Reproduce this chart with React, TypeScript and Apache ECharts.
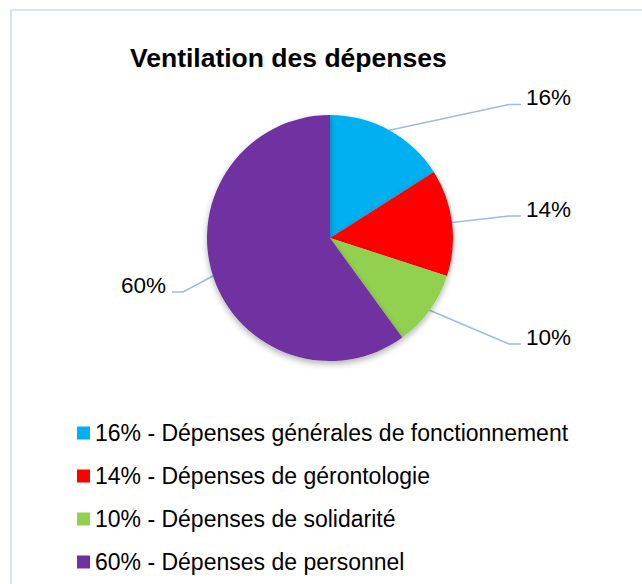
import React, { useEffect, useRef } from "react";
import * as echarts from "echarts";

const categories = [
  "Dépenses générales de fonctionnement",
  "Dépenses de gérontologie",
  "Dépenses de solidarité",
  "Dépenses de personnel",
];
const values = [16, 14, 10, 60];
const colors = ["#00B0F0", "#FF0000", "#92D050", "#7030A0"];
const titleText = "Ventilation des dépenses";

// label placement (layout only): y of each leader line's end
const labelLineEndY = [104.5, 216, 344, 292];

const FONT = "'Liberation Sans', Arial, Helvetica, sans-serif";
const CX = 330;
const CY = 238;
const R = 123;

export default function App() {
  const ref = useRef<HTMLDivElement>(null);

  useEffect(() => {
    if (!ref.current) return;
    const chart = echarts.init(ref.current, null, { renderer: "svg" });
    const total = values.reduce((a, b) => a + b, 0);

    const option: any = {
      animation: false,
      backgroundColor: "#ffffff",
      title: {
        text: titleText,
        left: 130,
        top: 44,
        padding: 0,
        textStyle: {
          fontFamily: FONT,
          fontSize: 26.5,
          fontWeight: "bold",
          color: "#000000",
          lineHeight: 27,
        },
      },
      graphic: [
        {
          type: "rect",
          shape: { x: 11, y: 10, width: 700, height: 700 },
          style: { fill: "none", stroke: "#d9e3f2", lineWidth: 2 },
          silent: true,
          z: -10,
        },
      ],
      legend: {
        orient: "vertical",
        left: 77,
        top: 421.5,
        padding: 0,
        itemWidth: 13,
        itemHeight: 13,
        itemGap: 20,
        icon: "rect",
        data: categories,
        formatter: (name: string) => {
          const i = categories.indexOf(name);
          return `${values[i]}% - ${name}`;
        },
        textStyle: {
          fontFamily: FONT,
          fontSize: 23,
          color: "#000000",
          lineHeight: 23,
        },
      },
      series: [
        {
          type: "pie",
          center: [CX, CY],
          radius: R,
          startAngle: 90,
          clockwise: true,
          avoidLabelOverlap: false,
          percentPrecision: 0,
          data: categories.map((c, i) => ({
            name: c,
            value: values[i],
            itemStyle: { color: colors[i] },
          })),
          itemStyle: {
            borderWidth: 0,
            shadowBlur: 6,
            shadowOffsetY: 3,
            shadowColor: "rgba(0,0,0,0.3)",
          },
          label: {
            show: true,
            position: "outside",
            formatter: "{d}%",
            fontFamily: FONT,
            fontSize: 22.5,
            color: "#000000",
          },
          labelLine: {
            show: true,
            length: 10,
            length2: 10,
            lineStyle: { color: "#9dbbe3", width: 1.5 },
          },
          labelLayout: (params: any) => {
            const i = params.dataIndex;
            // edge point at the slice's mid angle
            let cum = 0;
            for (let k = 0; k < i; k++) cum += values[k];
            const mid = ((cum + values[i] / 2) / total) * 2 * Math.PI;
            const ex = CX + R * Math.sin(mid);
            const ey = CY - R * Math.cos(mid);
            const right = ex >= CX;
            const endY = labelLineEndY[i];
            const endX = right ? CX + R + 68 : CX - R - 35;
            const midX = right ? endX - 12 : endX + 11;
            return {
              x: right ? endX + 5 : endX - 6,
              y: endY - 7,
              align: right ? "left" : "right",
              verticalAlign: "middle",
              labelLinePoints: [
                [ex, ey],
                [midX, endY],
                [endX, endY],
              ],
            };
          },
        },
      ],
    };
    chart.setOption(option);
    return () => chart.dispose();
  }, []);

  return (
    <div
      ref={ref}
      style={{ position: "absolute", left: 0, top: 0, width: 642, height: 584 }}
    />
  );
}
